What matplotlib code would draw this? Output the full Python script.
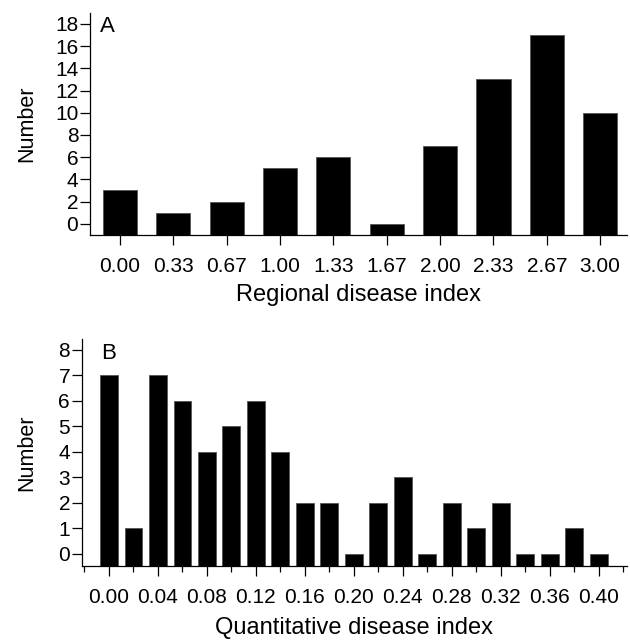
import numpy as np
import matplotlib.pyplot as plt
from matplotlib.ticker import MultipleLocator

plt.rcParams['font.family'] = ['Liberation Sans', 'DejaVu Sans']

# panel A: regional disease index
reg_labels = ['0.00', '0.33', '0.67', '1.00', '1.33', '1.67', '2.00', '2.33', '2.67', '3.00']
reg_counts = [3, 1, 2, 5, 6, 0, 7, 13, 17, 10]

# panel B: quantitative disease index (bins of 0.02)
quant_bins = [0.00, 0.02, 0.04, 0.06, 0.08, 0.10, 0.12, 0.14, 0.16, 0.18, 0.20,
              0.22, 0.24, 0.26, 0.28, 0.30, 0.32, 0.34, 0.36, 0.38, 0.40]
quant_counts = [7, 1, 7, 6, 4, 5, 6, 4, 2, 2, 0, 2, 3, 0, 2, 1, 2, 0, 0, 1, 0]
quant_ticks = [0.00, 0.04, 0.08, 0.12, 0.16, 0.20, 0.24, 0.28, 0.32, 0.36, 0.40]

fig = plt.figure(figsize=(6.3, 6.4), dpi=100)

def style(ax):
    ax.spines['top'].set_visible(False)
    ax.spines['right'].set_visible(False)
    ax.spines['left'].set_linewidth(0.9)
    ax.spines['bottom'].set_linewidth(0.9)
    ax.tick_params(axis='both', direction='out', width=0.9, length=7, labelsize=15, colors='black')
    ax.tick_params(axis='x', pad=9)
    ax.tick_params(axis='y', pad=1.5)

# --- A ---
axA = fig.add_axes([0.143, 0.633, 0.852, 0.347])
ybot_a = -1.0
x = np.arange(len(reg_labels))
axA.bar(x, np.array(reg_counts) - ybot_a, bottom=ybot_a, width=0.64, color='black',
        edgecolor='#555555', linewidth=0.6)
axA.set_xlim(-0.56, 9.5)
axA.set_ylim(ybot_a, 19.0)
axA.set_xticks(x)
axA.set_xticklabels(reg_labels)
axA.set_yticks(range(0, 19, 2))
axA.set_ylabel('Number', fontsize=15.5, labelpad=13)
axA.set_xlabel('Regional disease index', fontsize=17, labelpad=6)
style(axA)
axA.text(0.018, 0.985, 'A', transform=axA.transAxes, fontsize=16, va='top', ha='left')

# --- B ---
axB = fig.add_axes([0.130, 0.116, 0.865, 0.354])
ybot_b = -0.47
qb = np.array(quant_bins)
axB.bar(qb, np.array(quant_counts) - ybot_b, bottom=ybot_b, width=0.0144, color='black',
        edgecolor='#555555', linewidth=0.6)
axB.set_xlim(-0.022, 0.423)
axB.set_ylim(ybot_b, 8.42)
axB.set_xticks(quant_ticks)
axB.set_xticklabels(['%.2f' % t for t in quant_ticks])
axB.xaxis.set_minor_locator(MultipleLocator(0.02))
axB.set_yticks(range(0, 9))
axB.set_ylabel('Number', fontsize=15.5, labelpad=15)
axB.set_xlabel('Quantitative disease index', fontsize=17, labelpad=7)
style(axB)
axB.tick_params(axis='x', which='minor', direction='out', length=4, width=0.9)
axB.text(0.035, 0.985, 'B', transform=axB.transAxes, fontsize=16, va='top', ha='left')

fig.savefig('out.png', dpi=100)
